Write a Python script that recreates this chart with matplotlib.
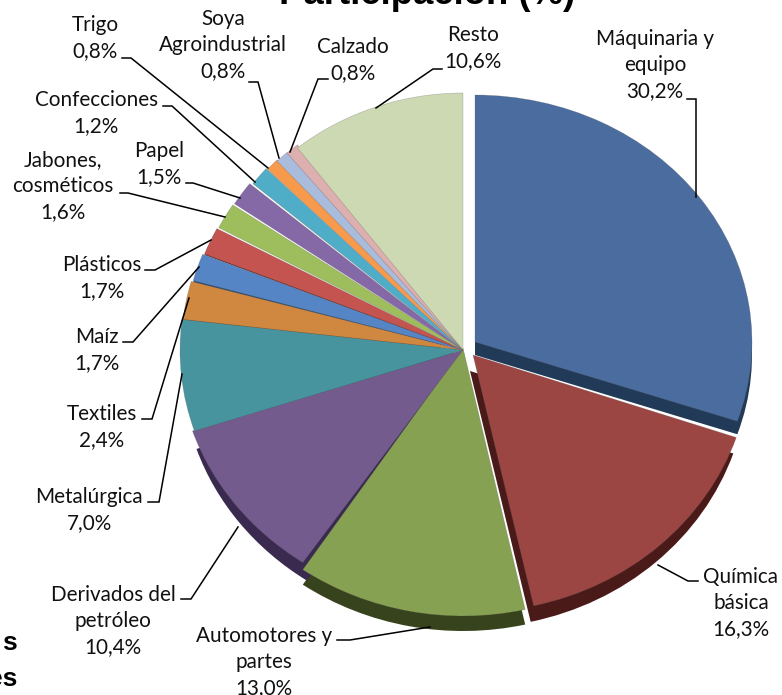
"""Participación (%): exploded pseudo-3D pie with hand-placed leader labels."""
import matplotlib
matplotlib.use('Agg')
import matplotlib.pyplot as plt
from matplotlib.transforms import Affine2D

WIDTH, HEIGHT = 782, 695

sectors = ['Máquinaria y\nequipo', 'Química\nbásica', 'Automotores y\npartes',
           'Derivados del\npetróleo', 'Metalúrgica', 'Textiles', 'Maíz',
           'Plásticos', 'Jabones,\ncosméticos', 'Papel', 'Confecciones',
           'Trigo', 'Soya\nAgroindustrial', 'Calzado', 'Resto']
shares = [30.2, 16.3, 13.0, 10.4, 7.0, 2.4, 1.7, 1.7, 1.6, 1.5, 1.2, 0.8, 0.8, 0.8, 10.6]
top_colors = ['#4A6C9F', '#9C4644', '#87A152', '#735B8E', '#47949F', '#D0873F',
              '#5585C4', '#C4544F', '#9EBD5C', '#8568A6', '#4FADC8', '#F79A4C',
              '#A9BCDC', '#DEAFAF', '#CCD9B2']
side_colors = ['#213A57', '#4A1A18', '#36431D', '#3A2A50', '#245B63', '#7A4C1E',
               '#2D4A70', '#6F2A28', '#5A6D30', '#4A3A60', '#2A6577', '#8F5522',
               '#6A7890', '#7F6565', '#77806A']

# perspective fudge: apex x, apex y, x radius, y radius, wall shift x, wall depth (pixels)
geometry = [
    (475, 342, 277, 247, 0, 13), (473, 355, 278, 257, -3, 16), (463, 348, 285, 268, 0, 15),
    (463, 350, 285, 257, 4, 18), (463, 350, 283, 257, 2, 4), (463, 350, 282, 257, 0, 3),
    (463, 350, 280, 260, 0, 2), (463, 350, 278, 261, 0, 1), (463, 350, 276, 263, 0, 0),
    (463, 350, 274, 265, 0, 0), (463, 350, 270, 265, 0, 0), (463, 350, 268, 264, 0, 0),
    (463, 350, 268, 262, 0, 0), (463, 350, 268, 261, 0, 0), (463, 350, 268, 257, 0, 0),
]

label_px = {
    'Máquinaria y\nequipo': (655, 65), 'Química\nbásica': (741, 603),
    'Automotores y\npartes': (264, 662), 'Derivados del\npetróleo': (113, 621),
    'Metalúrgica': (89, 510), 'Textiles': (102, 427), 'Maíz': (97, 350),
    'Plásticos': (102, 278), 'Jabones,\ncosméticos': (63, 186), 'Papel': (159, 164),
    'Confecciones': (96, 113), 'Trigo': (95, 38), 'Soya\nAgroindustrial': (223, 45),
    'Calzado': (353, 60), 'Resto': (473, 48),
}
leaders = [
    [(687, 99), (696, 99), (696, 197)],
    [(698, 581), (688, 581), (658, 565)],
    [(337, 640), (350, 640), (430, 627)],
    [(181, 599), (191, 599), (238, 527)],
    [(148, 502), (159, 502), (182, 374)],
    [(142, 419), (152, 419), (189, 298)],
    [(123, 342), (133, 342), (199, 267)],
    [(145, 270), (155, 270), (211, 240)],
    [(120, 193), (128, 193), (225, 217)],
    [(186, 183), (193, 183), (240, 198)],
    [(163, 106), (172, 106), (255, 182)],
    [(122, 58), (131, 58), (268, 168)],
    [(249, 82), (258, 82), (279, 158)],
    [(328, 79), (318, 79), (290, 152)],
    [(442, 69), (433, 69), (376, 108)],
]

fig = plt.figure(figsize=(WIDTH / 100, HEIGHT / 100), dpi=100)
ax = fig.add_axes([0, 0, 1, 1])

# dark copy first (side wall), then the top face
walls, _ = ax.pie(shares, colors=side_colors, startangle=90, counterclock=False,
                  wedgeprops={'linewidth': 0})
faces, _ = ax.pie(shares, colors=top_colors, startangle=90, counterclock=False,
                  wedgeprops={'linewidth': 0.4, 'edgecolor': '#55555560'})
ax.set_aspect('auto')
ax.set_xlim(0, WIDTH)
ax.set_ylim(0, HEIGHT)
ax.axis('off')

for wall, face, (cx, cy, rx, ry, dx, depth) in zip(walls, faces, geometry):
    wall.set_transform(Affine2D().scale(rx, ry).translate(cx + dx, HEIGHT - cy - depth)
                       + ax.transData)
    face.set_transform(Affine2D().scale(rx, ry).translate(cx, HEIGHT - cy) + ax.transData)
    if depth == 0:
        wall.set_visible(False)

# overlay in pixel coordinates for labels and leaders
ov = fig.add_axes([0, 0, 1, 1], facecolor='none')
ov.set_xlim(0, WIDTH)
ov.set_ylim(HEIGHT, 0)
ov.axis('off')

for name, share in zip(sectors, shares):
    x, y = label_px[name]
    ov.text(x, y, f"{name}\n{share:.1f}%".replace('.', ','), ha='center', va='center',
            family=['Lato', 'DejaVu Sans'], fontsize=14.9, linespacing=1.39, color='#111111')

for pts in leaders:
    ov.plot([p[0] for p in pts], [p[1] for p in pts], color='black', lw=1.1,
            solid_joinstyle='miter')

ov.text(427, 4, 'Participación (%)', ha='center', va='baseline', family='Liberation Sans',
        fontweight='bold', fontsize=26.3, color='black')
ov.text(17, 650, 's', ha='right', va='baseline', family='Liberation Sans',
        fontweight='bold', fontsize=19, color='black')
ov.text(17, 686, 'es', ha='right', va='baseline', family='Liberation Sans',
        fontweight='bold', fontsize=19, color='black')

fig.savefig('out.png', dpi=100)
